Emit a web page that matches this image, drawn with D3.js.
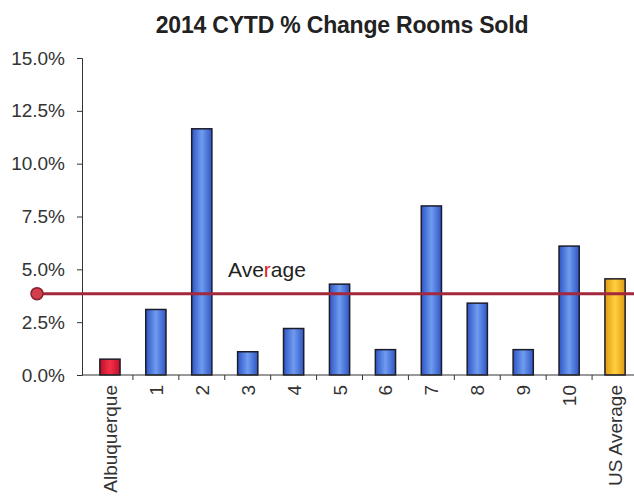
<!DOCTYPE html>
<html>
<head>
<meta charset="utf-8">
<script src="https://cdn.jsdelivr.net/npm/d3@7"></script>
<style>
body { margin: 0; background: #fff; }
svg { font-family: "Liberation Sans", Arial, sans-serif; }
</style>
</head>
<body>
<script>
// categories and values
var CATEGORIES = ["Albuquerque", "1", "2", "3", "4", "5", "6", "7", "8", "9", "10", "US Average"];
var VALUES = [0.0075, 0.031, 0.1165, 0.011, 0.022, 0.043, 0.012, 0.080, 0.034, 0.012, 0.061, 0.0455];
var Y_TICKS = [0, 0.025, 0.05, 0.075, 0.10, 0.125, 0.15];
var AVERAGE = 0.0385;

var width = 634, height = 502;

var svg = d3.select("body").append("svg")
    .attr("width", width)
    .attr("height", height);

var defs = svg.append("defs");
function grad(id, edge, mid) {
    var g = defs.append("linearGradient").attr("id", id)
        .attr("x1", "0%").attr("x2", "100%").attr("y1", "0%").attr("y2", "0%");
    g.append("stop").attr("offset", "0%").attr("stop-color", edge);
    g.append("stop").attr("offset", "50%").attr("stop-color", mid);
    g.append("stop").attr("offset", "100%").attr("stop-color", edge);
}
grad("gBlue", "#2f55c4", "#6f9cf0");
grad("gRed", "#c0102a", "#f53048");
grad("gOrange", "#e09a10", "#ffd040");

var x = d3.scaleBand()
    .domain(CATEGORIES)
    .range([87, 638])
    .paddingInner(0.56)
    .paddingOuter(0.28);

var y = d3.scaleLinear()
    .domain([0, 0.15])
    .range([375, 58]);

// title
svg.append("text")
    .attr("x", 342)
    .attr("y", 33)
    .attr("text-anchor", "middle")
    .attr("font-size", 23)
    .attr("font-weight", "bold")
    .attr("fill", "#222")
    .attr("letter-spacing", -0.2)
    .text("2014 CYTD % Change Rooms Sold");

// y axis
var yAxis = svg.append("g")
    .attr("transform", "translate(82,0)")
    .call(d3.axisLeft(y).tickValues(Y_TICKS).tickFormat(d3.format(".1%")).tickSize(5).tickPadding(12));
yAxis.select(".domain").attr("stroke", "#333");
yAxis.selectAll(".tick line").attr("stroke", "#333");
yAxis.selectAll("text").attr("font-size", 19).attr("fill", "#333")
    .attr("font-family", "'Liberation Sans', Arial, sans-serif");

// bars
svg.selectAll("rect.bar")
    .data(VALUES)
    .enter().append("rect")
    .attr("class", "bar")
    .attr("x", function (d, i) { return x(CATEGORIES[i]); })
    .attr("width", x.bandwidth())
    .attr("y", function (d) { return y(d); })
    .attr("height", function (d) { return y(0) - y(d); })
    .attr("fill", function (d, i) {
        if (i == 0) return "url(#gRed)";
        if (i == CATEGORIES.length - 1) return "url(#gOrange)";
        return "url(#gBlue)";
    })
    .attr("stroke", "#1c1c2a")
    .attr("stroke-width", 1.5);

// x axis line and ticks between categories
svg.append("line")
    .attr("x1", 82).attr("x2", 634)
    .attr("y1", y(0)).attr("y2", y(0))
    .attr("stroke", "#333");
var step = x.step();
svg.selectAll("line.xtick")
    .data(CATEGORIES.slice(1))
    .enter().append("line")
    .attr("class", "xtick")
    .attr("x1", function (d) { return x(d) - step * x.paddingInner() / 2; })
    .attr("x2", function (d) { return x(d) - step * x.paddingInner() / 2; })
    .attr("y1", y(0)).attr("y2", y(0) + 5)
    .attr("stroke", "#333");

// rotated category labels
svg.selectAll("text.xlab")
    .data(CATEGORIES)
    .enter().append("text")
    .attr("class", "xlab")
    .attr("transform", function (d) {
        return "translate(" + (x(d) + x.bandwidth() / 2 + 7) + "," + (y(0) + 10) + ") rotate(-90)";
    })
    .attr("text-anchor", "end")
    .attr("font-size", 19)
    .attr("fill", "#333")
    .text(function (d) { return d; });

// average line
svg.append("line")
    .attr("x1", 37).attr("x2", 634)
    .attr("y1", y(AVERAGE)).attr("y2", y(AVERAGE))
    .attr("stroke", "#a3283c")
    .attr("stroke-width", 3);
svg.append("circle")
    .attr("cx", 37).attr("cy", y(AVERAGE))
    .attr("r", 6)
    .attr("fill", "#d0404c")
    .attr("stroke", "#8a2030")
    .attr("stroke-width", 1.5);

var avgLab = svg.append("text")
    .attr("x", 228)
    .attr("y", 277)
    .attr("font-size", 21)
    .attr("fill", "#222");
avgLab.append("tspan").text("Ave");
avgLab.append("tspan").attr("fill", "#e02020").text("r");
avgLab.append("tspan").text("age");
</script>
</body>
</html>
